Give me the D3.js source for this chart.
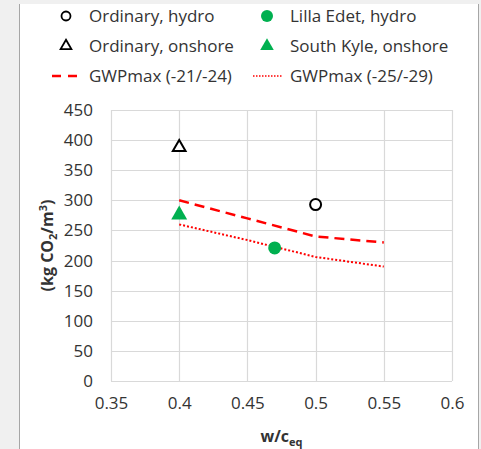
<!DOCTYPE html>
<html>
<head>
<meta charset="utf-8">
<script src="https://cdn.jsdelivr.net/npm/d3@7"></script>
<style>
  body { margin: 0; background: #f0f0f0; }
  svg { display: block; font-family: "Open Sans", "Noto Sans", sans-serif; }
</style>
</head>
<body>
<svg id="chart" width="481" height="449"></svg>
<script>
// Data
const xTicks = [0.35, 0.4, 0.45, 0.5, 0.55, 0.6];
const yTicks = [0, 50, 100, 150, 200, 250, 300, 350, 400, 450];

const ordinaryHydro = [{x: 0.5, y: 293}];
const ordinaryOnshore = [{x: 0.4, y: 388}];
const lillaEdet = [{x: 0.47, y: 221}];
const southKyle = [{x: 0.4, y: 276}];

const gwp2124 = [{x: 0.4, y: 300}, {x: 0.45, y: 270}, {x: 0.5, y: 240}, {x: 0.55, y: 230}];
const gwp2529 = [{x: 0.4, y: 260}, {x: 0.45, y: 234}, {x: 0.5, y: 206}, {x: 0.55, y: 190}];

const green = "#00b050";
const red = "#ff0000";
const textColor = "#333";

let svg = d3.select("#chart");

// panel background with thin borders
svg.append("rect").attr("x", 0).attr("y", 0).attr("width", 481).attr("height", 449).attr("fill", "#f0f0f0");
svg.append("rect").attr("x", 20).attr("y", 4).attr("width", 458).attr("height", 445).attr("fill", "#fff");
svg.append("line").attr("x1", 19.5).attr("x2", 19.5).attr("y1", 4).attr("y2", 449).attr("stroke", "#a6a6a6");
svg.append("line").attr("x1", 478.5).attr("x2", 478.5).attr("y1", 4).attr("y2", 449).attr("stroke", "#a6a6a6");

let margin = {top: 110, left: 111, right: 29, bottom: 68};
let width = 481 - margin.left - margin.right,
    height = 449 - margin.top - margin.bottom;

let g = svg.append("g").attr("transform", `translate(${margin.left},${margin.top})`);

let x = d3.scaleLinear().domain([0.35, 0.6]).range([0, width]);
let y = d3.scaleLinear().domain([0, 450]).range([height, 0]);

// gridlines
g.selectAll(".vgrid").data(xTicks).enter().append("line")
    .attr("x1", d => Math.round(x(d)) + 0.5).attr("x2", d => Math.round(x(d)) + 0.5)
    .attr("y1", 0).attr("y2", height)
    .attr("stroke", "#d9d9d9").attr("stroke-width", 1.2);
g.selectAll(".hgrid").data(yTicks).enter().append("line")
    .attr("x1", 0).attr("x2", width)
    .attr("y1", d => Math.round(y(d)) + 0.5).attr("y2", d => Math.round(y(d)) + 0.5)
    .attr("stroke", "#d9d9d9").attr("stroke-width", 1.2);

// axes (text only, Excel style)
let xAxis = g.append("g").attr("transform", `translate(0,${height})`)
    .call(d3.axisBottom(x).tickValues(xTicks).tickFormat(d3.format("")).tickSize(0).tickPadding(16));
let yAxis = g.append("g")
    .call(d3.axisLeft(y).tickValues(yTicks).tickSize(0).tickPadding(18));
[xAxis, yAxis].forEach(a => {
    a.select(".domain").remove();
    a.selectAll("text").style("font-size", "17px").style("fill", textColor)
        .style("font-family", "\"Open Sans\", sans-serif");
});

// lines
let line = d3.line().x(d => x(d.x)).y(d => y(d.y));
g.append("path").datum(gwp2124).attr("d", line)
    .attr("fill", "none").attr("stroke", red).attr("stroke-width", 2.5)
    .attr("stroke-dasharray", "10,6");
g.append("path").datum(gwp2529).attr("d", line)
    .attr("fill", "none").attr("stroke", red).attr("stroke-width", 2)
    .attr("stroke-dasharray", "2,2");

// markers
let tri = d3.symbol().type(d3.symbolTriangle);
g.selectAll(".oh").data(ordinaryHydro).enter().append("circle")
    .attr("cx", d => x(d.x)).attr("cy", d => y(d.y)).attr("r", 5.5)
    .attr("fill", "#fff").attr("stroke", "#000").attr("stroke-width", 2);
g.selectAll(".oo").data(ordinaryOnshore).enter().append("path")
    .attr("transform", d => `translate(${x(d.x)},${y(d.y)})`)
    .attr("d", tri.size(70)()).attr("fill", "#fff").attr("stroke", "#000").attr("stroke-width", 2);
g.selectAll(".le").data(lillaEdet).enter().append("circle")
    .attr("cx", d => x(d.x)).attr("cy", d => y(d.y)).attr("r", 6.5)
    .attr("fill", green);
g.selectAll(".sk").data(southKyle).enter().append("path")
    .attr("transform", d => `translate(${x(d.x)},${y(d.y)})`)
    .attr("d", tri.size(110)()).attr("fill", green);

// axis titles
g.append("text")
    .attr("x", width / 2).attr("y", height + 61)
    .style("text-anchor", "middle").style("font-size", "16px").style("font-weight", "bold").style("fill", textColor)
    .html('w/c<tspan dy="4" font-size="11px">eq</tspan>');
g.append("text")
    .attr("transform", `translate(${53 - margin.left},${height / 2}) rotate(-90)`)
    .style("text-anchor", "middle").style("font-size", "16px").style("font-weight", "bold").style("fill", textColor)
    .html('(kg CO<tspan dy="4" font-size="11px">2</tspan><tspan dy="-4">/m</tspan><tspan dy="-6" font-size="11px">3</tspan><tspan dy="6">)</tspan>');

// legend
const legendItems = [
    {label: "Ordinary, hydro", type: "openCircle", col: 0, row: 0},
    {label: "Lilla Edet, hydro", type: "greenCircle", col: 1, row: 0},
    {label: "Ordinary, onshore", type: "openTri", col: 0, row: 1},
    {label: "South Kyle, onshore", type: "greenTri", col: 1, row: 1},
    {label: "GWPmax (-21/-24)", type: "dash", col: 0, row: 2},
    {label: "GWPmax (-25/-29)", type: "dot", col: 1, row: 2}
];
const colX = [66, 267];
const rowY = [16, 46, 76];

let leg = svg.append("g");
legendItems.forEach(it => {
    let cx = colX[it.col], cy = rowY[it.row];
    let item = leg.append("g");
    if (it.type === "openCircle") {
        item.append("circle").attr("cx", cx).attr("cy", cy).attr("r", 4.5)
            .attr("fill", "#fff").attr("stroke", "#000").attr("stroke-width", 1.8);
    } else if (it.type === "greenCircle") {
        item.append("circle").attr("cx", cx).attr("cy", cy).attr("r", 6).attr("fill", green);
    } else if (it.type === "openTri") {
        item.append("path").attr("transform", `translate(${cx},${cy})`)
            .attr("d", tri.size(50)()).attr("fill", "#fff").attr("stroke", "#000").attr("stroke-width", 1.8);
    } else if (it.type === "greenTri") {
        item.append("path").attr("transform", `translate(${cx},${cy})`)
            .attr("d", tri.size(80)()).attr("fill", green);
    } else if (it.type === "dash") {
        item.append("line").attr("x1", cx - 14).attr("x2", cx + 12).attr("y1", cy).attr("y2", cy)
            .attr("stroke", red).attr("stroke-width", 2.5).attr("stroke-dasharray", "9,7");
    } else {
        item.append("line").attr("x1", cx - 14).attr("x2", cx + 15).attr("y1", cy).attr("y2", cy)
            .attr("stroke", red).attr("stroke-width", 1.5).attr("stroke-dasharray", "1.5,1.5");
    }
    item.append("text").attr("x", cx + 23).attr("y", cy).attr("dy", "0.35em")
        .style("font-size", "17px").style("fill", textColor).text(it.label);
});
</script>
</body>
</html>
